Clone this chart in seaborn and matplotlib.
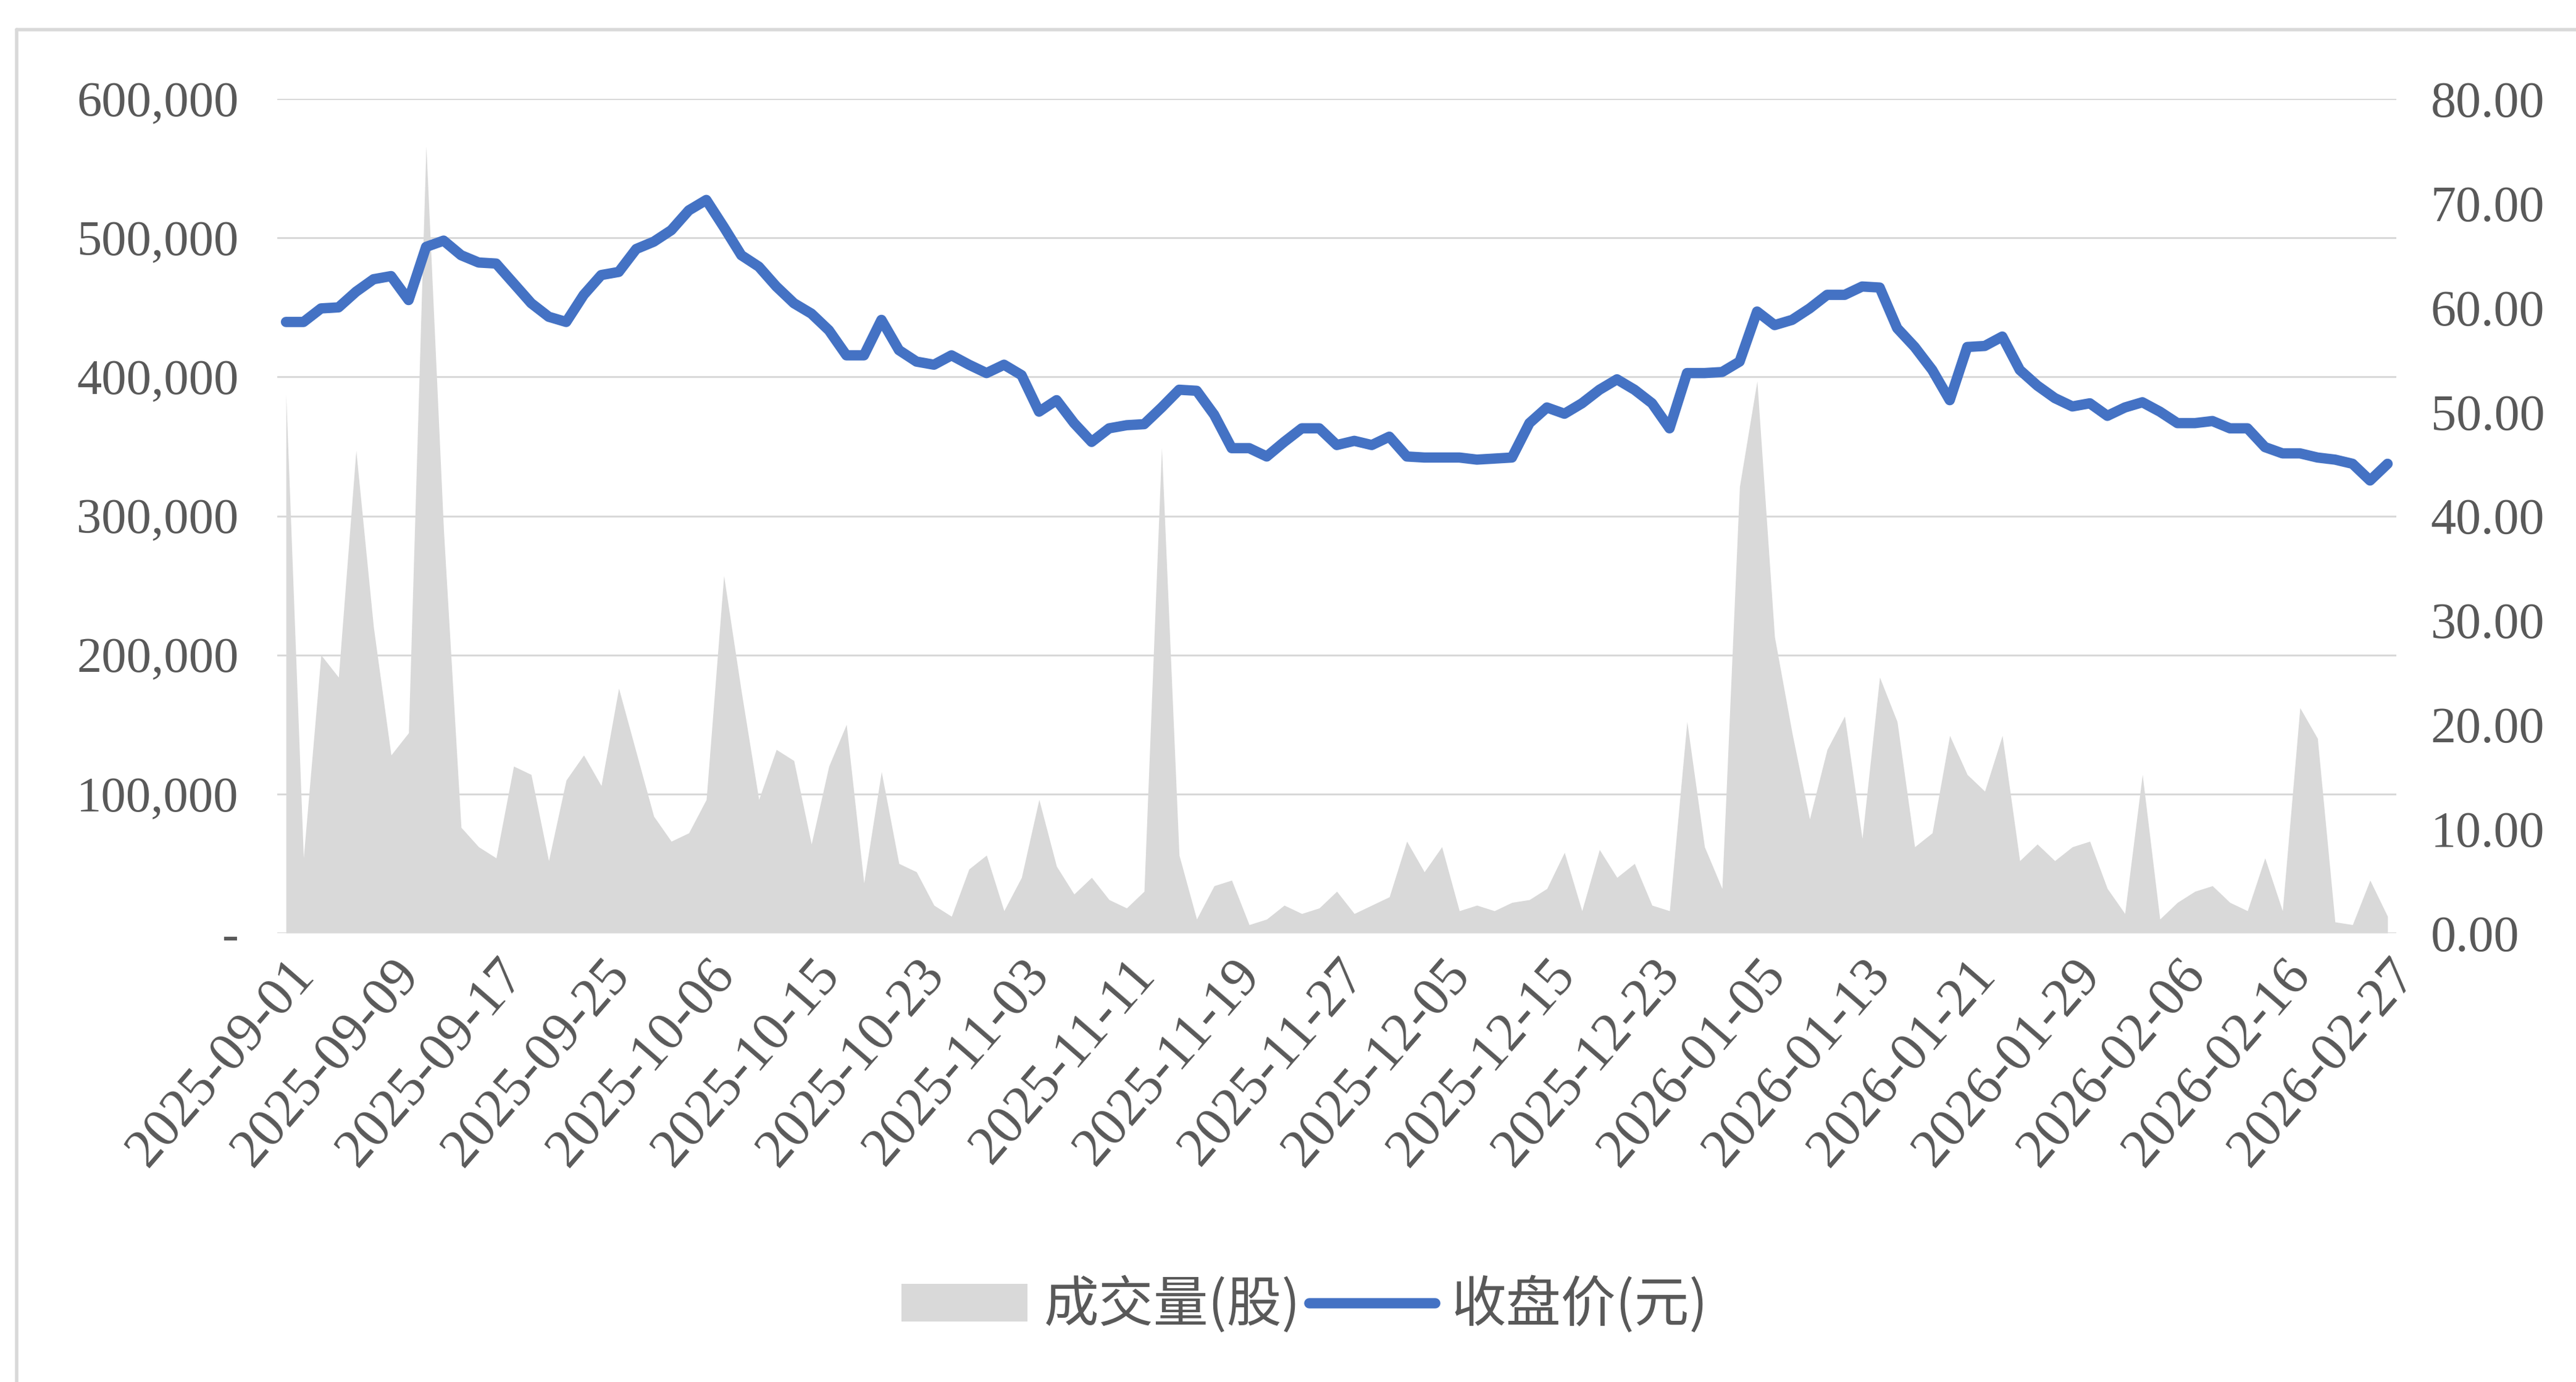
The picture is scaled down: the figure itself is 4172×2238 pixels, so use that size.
import matplotlib
matplotlib.use('Agg')
import matplotlib.pyplot as plt
import seaborn as sns
import pandas as pd
from matplotlib.lines import Line2D
from matplotlib.patches import Patch

# HK trading days, 2025-09-01 .. 2026-02-27
holidays = ['2025-10-01', '2025-10-07', '2025-10-29', '2025-12-25', '2025-12-26',
            '2026-01-01', '2026-02-17', '2026-02-18', '2026-02-19']
dates = pd.bdate_range('2025-09-01', '2026-02-27', freq='C',
                       holidays=holidays).strftime('%Y-%m-%d').tolist()

# 成交量(股)
volume = [
    387000, 54000, 200000, 184000, 347000, 220000, 128000, 144000, 566000, 290000,
    76000, 62000, 54000, 120000, 114000, 52000, 110000, 128000, 106000, 176000,
    130000, 84000, 66000, 72000, 96000, 257000, 174000, 96000, 132000, 124000,
    64000, 120000, 150000, 36000, 116000, 50000, 44000, 20000, 12000, 46000,
    56000, 16000, 40000, 96000, 48000, 28000, 40000, 24000, 18000, 30000,
    349000, 56000, 10000, 34000, 38000, 6000, 10000, 20000, 14000, 18000,
    30000, 14000, 20000, 26000, 66000, 44000, 62000, 16000, 20000, 16000,
    22000, 24000, 32000, 58000, 16000, 60000, 40000, 50000, 20000, 16000,
    152000, 62000, 32000, 321000, 397000, 213000, 144000, 82000, 132000, 156000,
    68000, 184000, 152000, 62000, 72000, 142000, 114000, 102000, 142000, 52000,
    64000, 52000, 62000, 66000, 32000, 14000, 114000, 10000, 22000, 30000,
    34000, 22000, 16000, 54000, 16000, 162000, 140000, 8000, 6000, 38000,
    12000,
]

# 收盘价(元)
close = [
    58.6, 58.6, 59.9, 60.0, 61.5, 62.7, 63.0, 60.7, 65.8, 66.4,
    65.0, 64.3, 64.2, 62.3, 60.4, 59.1, 58.6, 61.2, 63.1, 63.4,
    65.6, 66.3, 67.4, 69.3, 70.3, 67.7, 65.0, 63.9, 62.0, 60.4,
    59.4, 57.8, 55.4, 55.4, 58.8, 55.9, 54.8, 54.5, 55.4, 54.5,
    53.7, 54.5, 53.5, 50.0, 51.1, 48.9, 47.1, 48.4, 48.7, 48.8,
    50.4, 52.1, 52.0, 49.7, 46.5, 46.5, 45.7, 47.1, 48.4, 48.4,
    46.8, 47.2, 46.8, 47.6, 45.7, 45.6, 45.6, 45.6, 45.4, 45.5,
    45.6, 48.9, 50.4, 49.8, 50.8, 52.1, 53.1, 52.1, 50.8, 48.4,
    53.7, 53.7, 53.8, 54.8, 59.6, 58.3, 58.8, 59.9, 61.2, 61.2,
    62.0, 61.9, 58.0, 56.2, 54.0, 51.1, 56.2, 56.3, 57.2, 54.0,
    52.5, 51.3, 50.5, 50.8, 49.6, 50.4, 50.9, 50.0, 48.9, 48.9,
    49.1, 48.4, 48.4, 46.6, 46.0, 46.0, 45.6, 45.4, 45.0, 43.4,
    45.0,
]

vol_ticks = [0, 100000, 200000, 300000, 400000, 500000, 600000]
price_ticks = [0, 10, 20, 30, 40, 50, 60, 70, 80]

GRAY = '#d9d9d9'
BLUE = '#4472c4'
TEXT = '#595959'


def main():
    df = pd.DataFrame({'pos': range(len(dates)), 'date': dates,
                       'volume': volume, 'close': close})

    sns.set_theme(style='white')
    plt.rcParams['font.family'] = ['Liberation Serif', 'Noto Sans CJK SC']

    W, H = 4172, 2238
    fig = plt.figure(figsize=(W / 100, H / 100), dpi=100)
    ax = fig.add_axes([449 / W, 1 - 1511 / H, (3881 - 449) / W, (1511 - 160) / H])

    # volume area
    ax.fill_between(df['pos'], df['volume'], color=GRAY, lw=0, zorder=2)
    ax.set_xlim(-0.5, len(dates) - 0.5)
    ax.set_ylim(0, 600000)
    ax.set_yticks(vol_ticks)
    ax.set_yticklabels(['-' if v == 0 else f'{v:,}' for v in vol_ticks])
    ax.grid(axis='y', color=GRAY, lw=2.2)
    ax.set_axisbelow(True)

    # closing price line
    ax2 = ax.twinx()
    sns.lineplot(data=df, x='pos', y='close', ax=ax2, color=BLUE, lw=12,
                 legend=False, solid_capstyle='round', solid_joinstyle='round')
    ax2.set_ylim(0, 80)
    ax2.set_yticks(price_ticks)
    ax2.set_yticklabels([f'{v:.2f}' for v in price_ticks])
    ax2.set_xlim(-0.5, len(dates) - 0.5)

    xt = list(range(0, len(dates), 6))
    ax.set_xticks(xt)
    ax.set_xticklabels([dates[i] for i in xt])
    plt.setp(ax.get_xticklabels(), rotation=49, ha='right', va='top',
             rotation_mode='anchor')

    for a in (ax, ax2):
        a.set_xlabel('')
        a.set_ylabel('')
        for s in a.spines.values():
            s.set_visible(False)
    ax.tick_params(axis='y', length=0, pad=45, labelsize=58, labelcolor=TEXT)
    ax.tick_params(axis='x', length=0, pad=20, labelsize=64, labelcolor=TEXT)
    ax2.tick_params(axis='y', length=0, pad=40, labelsize=59, labelcolor=TEXT)

    handles = [Patch(facecolor=GRAY, edgecolor='none', label='成交量(股)'),
               Line2D([], [], color=BLUE, lw=12, solid_capstyle='round',
                      label='收盘价(元)')]
    fig.legend(handles=handles, loc='center', bbox_to_anchor=(2113 / W, 1 - 2115 / H),
               ncol=2, frameon=False, prop={'family': ['Noto Sans CJK SC'], 'size': 64},
               labelcolor=TEXT, handlelength=2.3, handleheight=0.68,
               handletextpad=0.3, columnspacing=0.15)

    # screenshot frame
    fig.add_artist(Line2D([27 / W, 1], [1 - 48 / H] * 2, transform=fig.transFigure,
                          color=GRAY, lw=4))
    fig.add_artist(Line2D([27 / W] * 2, [0, 1 - 48 / H], transform=fig.transFigure,
                          color=GRAY, lw=4))

    fig.savefig('out.png', dpi=100)


if __name__ == "__main__":
    main()
